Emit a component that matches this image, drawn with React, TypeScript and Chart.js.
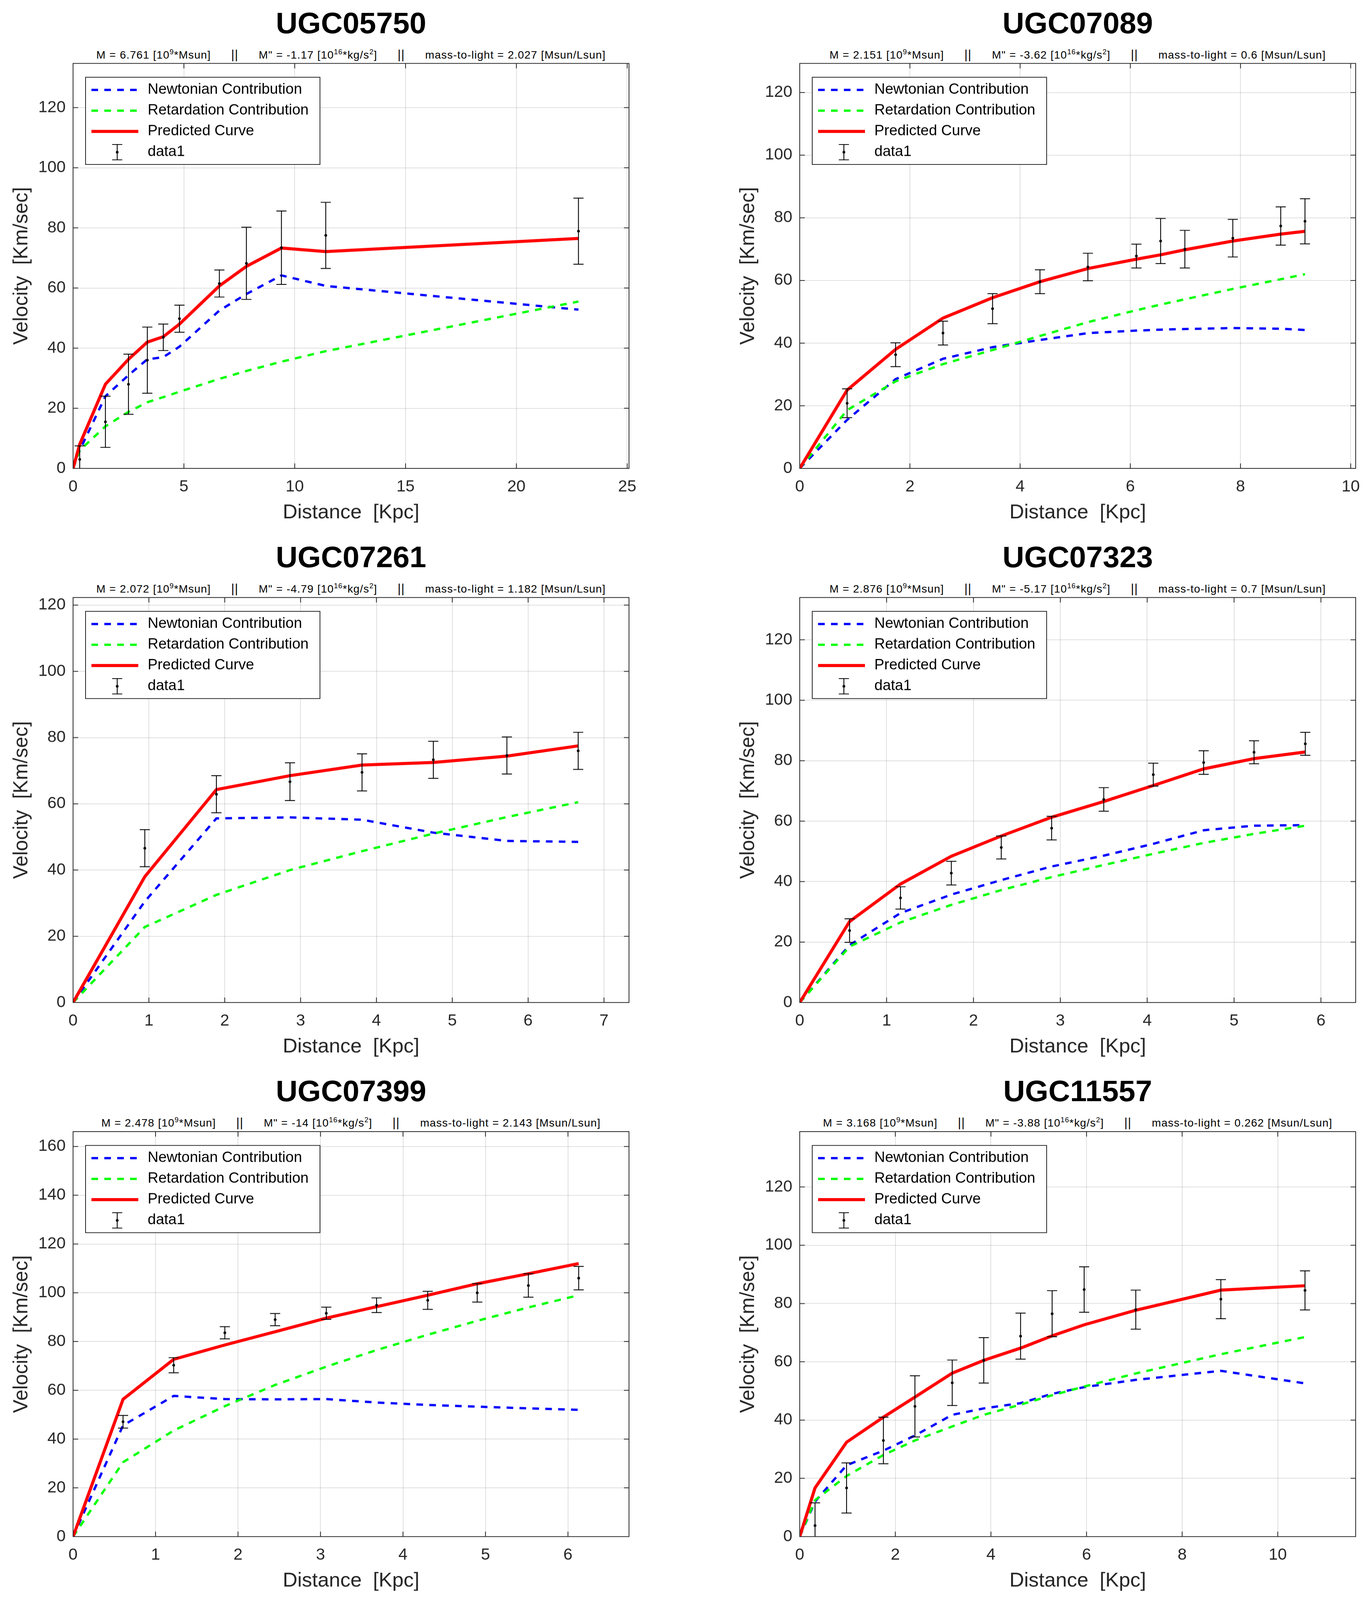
import React, { useEffect, useRef } from "react";
import { Chart, registerables } from "chart.js";

Chart.register(...registerables);

const FONT = '"Liberation Sans", Arial, Helvetica, sans-serif';
Chart.defaults.font.family = FONT;

// galaxy names and fit parameters shown in the subtitles
const GALAXIES = ["UGC05750", "UGC07089", "UGC07261", "UGC07323", "UGC07399", "UGC11557"];
const MASS = ["6.761", "2.151", "2.072", "2.876", "2.478", "3.168"];
const M_DOUBLE_PRIME = ["-1.17", "-3.62", "-4.79", "-5.17", "-14", "-3.88"];
const MASS_TO_LIGHT = ["2.027", "0.6", "1.182", "0.7", "2.143", "0.262"];

// axis limits and tick steps
const X_MAX = [25.08, 10.09, 7.33, 6.4, 6.74, 11.63];
const Y_MAX = [134.7, 129.3, 122.3, 134, 166.1, 139];
const X_STEP = [5, 2, 1, 1, 1, 2];
const Y_STEP = [20, 20, 20, 20, 20, 20];

// observed rotation curves: radius [Kpc], velocity and error [Km/sec]
const UGC05750_R = [0.3, 1.46, 2.5, 3.35, 4.07, 4.8, 6.6, 7.82, 9.4, 11.4, 22.8];
const UGC05750_V = [3, 15.5, 28, 36, 43.6, 49.8, 61.5, 68.2, 73.4, 77.5, 78.9];
const UGC05750_ERR = [4.5, 8.5, 10, 11, 4.4, 4.5, 4.5, 12, 12.2, 11, 11];
// model curves, evaluated at r = 0 and then at every radius above
const UGC05750_NEWTON = [0, 6, 24, 31, 36.3, 37, 40.5, 52.5, 58, 64.2, 60.7, 52.8];
const UGC05750_RETARD = [0, 6, 14, 18.8, 22, 23.7, 25.5, 29.8, 32.4, 35.5, 39, 55.5];
const UGC05750_PRED = [0, 8, 28, 36.3, 42, 43.8, 48, 60.7, 67.2, 73.3, 72.1, 76.5];

const UGC07089_R = [0.86, 1.74, 2.6, 3.5, 4.36, 5.23, 6.11, 6.55, 6.99, 7.86, 8.73, 9.17];
const UGC07089_V = [20.8, 36.3, 43.2, 51, 59.6, 64.3, 67.8, 72.6, 70, 73.5, 77.4, 78.9];
const UGC07089_ERR = [4.6, 3.8, 3.8, 4.8, 3.8, 4.4, 3.8, 7.2, 6, 6, 6.1, 7.2];
const UGC07089_NEWTON = [0, 15.5, 28.5, 35, 38.7, 41, 43.2, 44, 44.3, 44.5, 44.8, 44.6, 44.2];
const UGC07089_RETARD = [0, 18.6, 27.8, 33.3, 37.8, 42.3, 46.7, 50.5, 52.3, 54, 57.3, 60.4, 62];
const UGC07089_PRED = [0, 25, 38, 48, 54.5, 59.6, 63.8, 66.8, 68.2, 69.8, 72.6, 74.8, 75.7];

const UGC07261_R = [0.946, 1.89, 2.86, 3.81, 4.75, 5.72, 6.66];
const UGC07261_V = [46.6, 62.9, 66.7, 69.5, 73.3, 74.6, 76];
const UGC07261_ERR = [5.6, 5.6, 5.7, 5.6, 5.6, 5.6, 5.6];
const UGC07261_NEWTON = [0, 30.5, 55.6, 55.9, 55.2, 51.3, 48.8, 48.5];
const UGC07261_RETARD = [0, 22.8, 32.5, 40, 45.7, 51, 56, 60.5];
const UGC07261_PRED = [0, 38, 64.3, 68.5, 71.7, 72.5, 74.4, 77.5];

const UGC07323_R = [0.574, 1.16, 1.745, 2.32, 2.9, 3.5, 4.07, 4.65, 5.23, 5.82];
const UGC07323_V = [23.8, 34.6, 42.8, 51.3, 57.7, 67.2, 75.4, 79.4, 82.8, 85.6];
const UGC07323_ERR = [3.9, 3.7, 3.9, 3.8, 3.9, 3.9, 3.8, 3.9, 3.8, 3.8];
const UGC07323_NEWTON = [0, 19, 29.6, 35.7, 40.5, 45, 48.6, 52.5, 57, 58.5, 58.7];
const UGC07323_RETARD = [0, 18.5, 26.5, 32.3, 37.2, 41.5, 45.5, 49.2, 52.8, 55.8, 58.5];
const UGC07323_PRED = [0, 26.8, 39.2, 48.4, 55.1, 61.3, 66.5, 71.8, 77.3, 80.7, 82.9];

const UGC07399_R = [0.606, 1.22, 1.84, 2.45, 3.07, 3.68, 4.3, 4.9, 5.52, 6.13];
const UGC07399_V = [47.1, 70.3, 83.6, 89, 91.6, 94.9, 96.9, 100, 103, 106];
const UGC07399_ERR = [2.6, 3.1, 2.5, 2.5, 2.5, 3, 3.7, 3.8, 4.8, 4.8];
const UGC07399_NEWTON = [0, 45.6, 57.7, 56.4, 56.3, 56.4, 55, 54, 53.3, 52.6, 52];
const UGC07399_RETARD = [0, 30.5, 43.5, 53.5, 62.2, 69.7, 76.5, 82.8, 88.5, 94, 99];
const UGC07399_PRED = [0, 56.3, 72.7, 78.6, 84, 89.6, 94.3, 99, 103.7, 107.8, 112];

const UGC11557_R = [0.32, 0.98, 1.75, 2.41, 3.19, 3.85, 4.62, 5.28, 5.95, 7.03, 8.81, 10.57];
const UGC11557_V = [3.8, 16.7, 33, 44.7, 52.8, 60.5, 68.8, 76.5, 84.8, 77.9, 81.5, 84.5];
const UGC11557_ERR = [7.8, 8.6, 8, 10.5, 7.8, 7.8, 7.9, 7.9, 7.8, 6.7, 6.7, 6.7];
const UGC11557_NEWTON = [0, 12, 24.5, 29.5, 34.7, 41.8, 44, 45.8, 49, 51.3, 53.8, 56.9, 52.6];
const UGC11557_RETARD = [0, 12.5, 20.8, 28, 33, 37.8, 41.8, 45.3, 48.5, 51.5, 56, 62.6, 68.5];
const UGC11557_PRED = [0, 16.7, 32.4, 41, 47.9, 56.1, 60.5, 64.7, 68.9, 72.7, 77.7, 84.6, 86.1];

const RADII = [UGC05750_R, UGC07089_R, UGC07261_R, UGC07323_R, UGC07399_R, UGC11557_R];
const VELOCITIES = [UGC05750_V, UGC07089_V, UGC07261_V, UGC07323_V, UGC07399_V, UGC11557_V];
const ERRORS = [UGC05750_ERR, UGC07089_ERR, UGC07261_ERR, UGC07323_ERR, UGC07399_ERR, UGC11557_ERR];
const NEWTONIAN = [UGC05750_NEWTON, UGC07089_NEWTON, UGC07261_NEWTON, UGC07323_NEWTON, UGC07399_NEWTON, UGC11557_NEWTON];
const RETARDATION = [UGC05750_RETARD, UGC07089_RETARD, UGC07261_RETARD, UGC07323_RETARD, UGC07399_RETARD, UGC11557_RETARD];
const PREDICTED = [UGC05750_PRED, UGC07089_PRED, UGC07261_PRED, UGC07323_PRED, UGC07399_PRED, UGC11557_PRED];

const LEGEND_LABELS = ["Newtonian Contribution", "Retardation Contribution", "Predicted Curve", "data1"];

// page layout (plot area of each panel)
const PAGE_W = 3499;
const PAGE_H = 4164;
const COL_LEFT = [187, 2047];
const ROW_TOP = [165, 1555, 2945];
const PLOT_W = 1423;
const PLOT_H = 1054;
const Y_AXIS_W = 187;
const X_AXIS_H = 150;
const PAD = 60;

const AXIS_COLOR = "#262626";

function RotationPanel({ index }: { index: number }) {
  const canvasRef = useRef<HTMLCanvasElement | null>(null);

  useEffect(() => {
    if (!canvasRef.current) return;
    const r = RADII[index];
    const v = VELOCITIES[index];
    const err = ERRORS[index];
    const xs = [0, ...r];
    const curve = (vals: number[]) => vals.map((y, i) => ({ x: xs[i], y }));

    const matlabAxes = {
      id: "matlabAxes",
      afterDatasetsDraw(chart: Chart) {
        const { ctx, chartArea: a } = chart;
        const x = chart.scales.x;
        const y = chart.scales.y;
        ctx.save();
        ctx.beginPath();
        ctx.rect(a.left, a.top, a.right - a.left, a.bottom - a.top);
        ctx.clip();
        ctx.strokeStyle = "#000";
        ctx.lineWidth = 2.2;
        r.forEach((ri, i) => {
          const px = x.getPixelForValue(ri);
          const top = y.getPixelForValue(v[i] + err[i]);
          const bot = y.getPixelForValue(v[i] - err[i]);
          ctx.beginPath();
          ctx.moveTo(px, top);
          ctx.lineTo(px, bot);
          ctx.moveTo(px - 13, top);
          ctx.lineTo(px + 13, top);
          ctx.moveTo(px - 13, bot);
          ctx.lineTo(px + 13, bot);
          ctx.stroke();
        });
        ctx.restore();
      },
      afterDraw(chart: Chart) {
        const { ctx, chartArea: a } = chart;
        const x = chart.scales.x;
        const y = chart.scales.y;
        ctx.save();
        // box and inward ticks
        ctx.strokeStyle = AXIS_COLOR;
        ctx.lineWidth = 2;
        ctx.beginPath();
        x.ticks.forEach((t) => {
          const px = x.getPixelForValue(t.value);
          ctx.moveTo(px, a.bottom);
          ctx.lineTo(px, a.bottom - 13);
          ctx.moveTo(px, a.top);
          ctx.lineTo(px, a.top + 13);
        });
        y.ticks.forEach((t) => {
          const py = y.getPixelForValue(t.value);
          ctx.moveTo(a.left, py);
          ctx.lineTo(a.left + 13, py);
          ctx.moveTo(a.right, py);
          ctx.lineTo(a.right - 13, py);
        });
        ctx.stroke();
        ctx.strokeRect(a.left, a.top, a.right - a.left, a.bottom - a.top);

        // legend
        const lx = a.left + 32;
        const ly = a.top + 36;
        ctx.fillStyle = "#fff";
        ctx.fillRect(lx, ly, 600, 227);
        ctx.strokeStyle = AXIS_COLOR;
        ctx.lineWidth = 2;
        ctx.strokeRect(lx, ly, 600, 227);
        ctx.font = `38px ${FONT}`;
        ctx.textBaseline = "middle";
        ctx.textAlign = "left";
        chart.data.datasets.forEach((ds: any, i: number) => {
          const rowY = ly + 33 + 54 * i;
          if (ds.showLine) {
            ctx.setLineDash(ds.borderDash || []);
            ctx.strokeStyle = ds.borderColor;
            ctx.lineWidth = ds.borderWidth;
            ctx.beginPath();
            ctx.moveTo(lx + 15, rowY);
            ctx.lineTo(lx + 135, rowY);
            ctx.stroke();
            ctx.setLineDash([]);
          } else {
            const cx = lx + 81;
            ctx.strokeStyle = "#000";
            ctx.lineWidth = 2.2;
            ctx.beginPath();
            ctx.moveTo(cx, rowY - 20);
            ctx.lineTo(cx, rowY + 20);
            ctx.moveTo(cx - 13, rowY - 20);
            ctx.lineTo(cx + 13, rowY - 20);
            ctx.moveTo(cx - 13, rowY + 20);
            ctx.lineTo(cx + 13, rowY + 20);
            ctx.stroke();
            ctx.fillStyle = "#000";
            ctx.beginPath();
            ctx.arc(cx, rowY, 3.5, 0, Math.PI * 2);
            ctx.fill();
          }
          ctx.fillStyle = "#000";
          ctx.fillText(ds.label, lx + 159, rowY);
        });
        ctx.restore();
      },
    };

    const chart = new Chart(canvasRef.current, {
      type: "scatter",
      data: {
        datasets: [
          {
            label: LEGEND_LABELS[0],
            data: curve(NEWTONIAN[index]),
            showLine: true,
            borderColor: "#0000ff",
            borderWidth: 6,
            borderDash: [17, 16],
            pointRadius: 0,
            order: 3,
          },
          {
            label: LEGEND_LABELS[1],
            data: curve(RETARDATION[index]),
            showLine: true,
            borderColor: "#00ff00",
            borderWidth: 6,
            borderDash: [17, 16],
            pointRadius: 0,
            order: 2,
          },
          {
            label: LEGEND_LABELS[2],
            data: curve(PREDICTED[index]),
            showLine: true,
            borderColor: "#ff0000",
            borderWidth: 8,
            pointRadius: 0,
            order: 1,
          },
          {
            label: LEGEND_LABELS[3],
            data: r.map((ri, i) => ({ x: ri, y: v[i] })),
            showLine: false,
            pointRadius: 3.5,
            pointBackgroundColor: "#000",
            pointBorderWidth: 0,
            order: 0,
          },
        ],
      },
      options: {
        responsive: false,
        devicePixelRatio: 1,
        animation: false,
        events: [],
        layout: { padding: { left: 0, top: PAD, right: PAD, bottom: 0 } },
        plugins: { legend: { display: false }, tooltip: { enabled: false } },
        scales: {
          x: {
            type: "linear",
            min: 0,
            max: X_MAX[index],
            afterFit: (s: any) => {
              s.height = X_AXIS_H;
            },
            ticks: {
              stepSize: X_STEP[index],
              includeBounds: false,
              autoSkip: false,
              maxRotation: 0,
              padding: 23,
              color: AXIS_COLOR,
              font: { size: 42 },
            },
            grid: { color: "rgba(38,38,38,0.15)", lineWidth: 2, drawTicks: false },
            border: { display: false },
            title: {
              display: true,
              text: "Distance  [Kpc]",
              color: AXIS_COLOR,
              font: { size: 52 },
              padding: { top: 0, bottom: 3 },
            },
          },
          y: {
            type: "linear",
            min: 0,
            max: Y_MAX[index],
            afterFit: (s: any) => {
              s.width = Y_AXIS_W;
            },
            ticks: {
              stepSize: Y_STEP[index],
              includeBounds: false,
              padding: 19,
              color: AXIS_COLOR,
              font: { size: 42 },
            },
            grid: { color: "rgba(38,38,38,0.15)", lineWidth: 2, drawTicks: false },
            border: { display: false },
            title: {
              display: true,
              text: "Velocity  [Km/sec]",
              color: AXIS_COLOR,
              font: { size: 52 },
              padding: { top: 24, bottom: 0 },
            },
          },
        },
      },
      plugins: [matlabAxes],
    } as any);

    return () => chart.destroy();
  }, [index]);

  const left = COL_LEFT[index % 2];
  const top = ROW_TOP[Math.floor(index / 2)];
  const cw = Y_AXIS_W + PLOT_W + PAD;
  const ch = PAD + PLOT_H + X_AXIS_H;
  const sup: React.CSSProperties = { fontSize: 18, position: "relative", top: -11 };
  const sep: React.CSSProperties = { margin: "0 52px", fontSize: 31 };

  return (
    <>
      <div
        style={{
          position: "absolute",
          left,
          top: top - 144,
          width: PLOT_W,
          textAlign: "center",
          font: `bold 77px ${FONT}`,
          lineHeight: "77px",
          color: "#000",
        }}
      >
        {GALAXIES[index]}
      </div>
      <div
        style={{
          position: "absolute",
          left,
          top: top - 37,
          width: PLOT_W,
          textAlign: "center",
          font: `28px ${FONT}`,
          letterSpacing: "1.2px",
          lineHeight: "28px",
          whiteSpace: "pre",
          color: "#000",
        }}
      >
        M = {MASS[index]} [10<span style={sup}>9</span>*Msun]
        <span style={sep}>||</span>
        M" = {M_DOUBLE_PRIME[index]} [10<span style={sup}>16</span>*kg/s<span style={sup}>2</span>]
        <span style={sep}>||</span>
        mass-to-light = {MASS_TO_LIGHT[index]} [Msun/Lsun]
      </div>
      <canvas
        ref={canvasRef}
        width={cw}
        height={ch}
        style={{
          position: "absolute",
          left: left - Y_AXIS_W,
          top: top - PAD,
          width: cw,
          height: ch,
        }}
      />
    </>
  );
}

export default function App() {
  // fit the full figure into whatever viewport the page actually gets
  const sx = (typeof window !== "undefined" ? window.innerWidth : PAGE_W) / PAGE_W;
  const sy = (typeof window !== "undefined" ? window.innerHeight : PAGE_H) / PAGE_H;

  return (
    <div
      style={{
        position: "absolute",
        left: 0,
        top: 0,
        width: PAGE_W,
        height: PAGE_H,
        background: "#fff",
        overflow: "hidden",
        transform: `scale(${sx}, ${sy})`,
        transformOrigin: "0 0",
      }}
    >
      {GALAXIES.map((g, i) => (
        <RotationPanel key={g} index={i} />
      ))}
    </div>
  );
}
